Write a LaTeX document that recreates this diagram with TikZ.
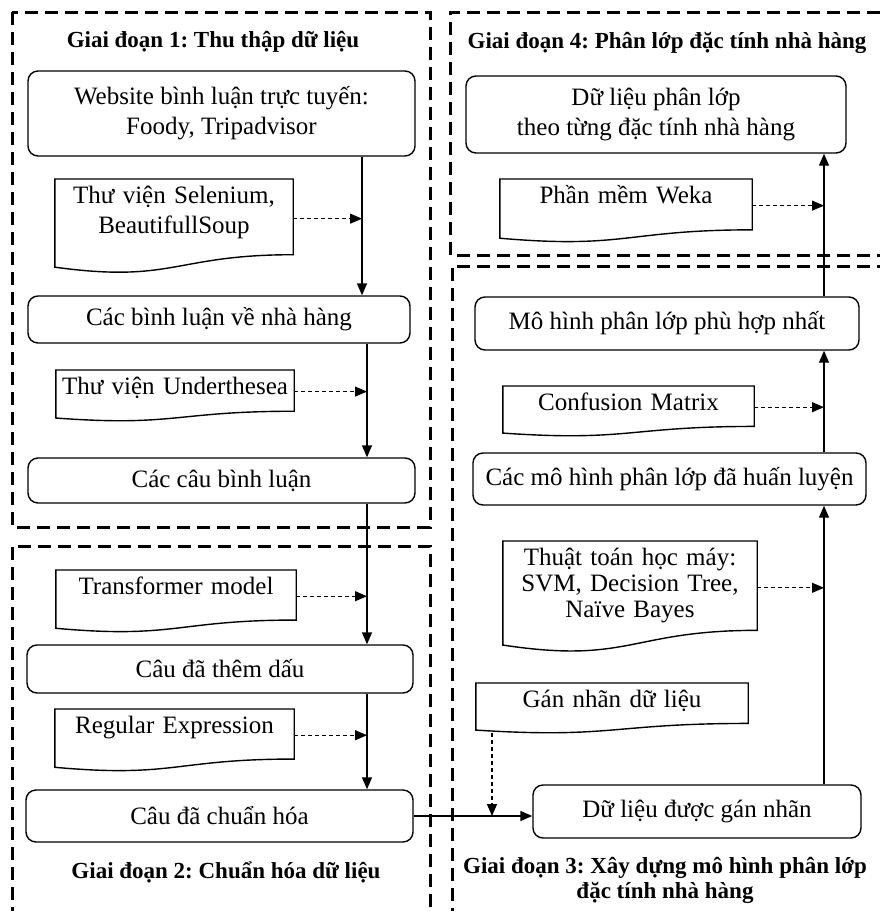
\documentclass[tikz,border=0pt]{standalone}
\usepackage{fontspec}
\setmainfont{Liberation Serif}
\usetikzlibrary{calc,arrows.meta}
\frenchspacing
\tikzset{
  box/.style={draw,rounded corners=10pt,line width=1.4pt,align=center,inner sep=2pt},
  doc/.style={inner sep=0pt,align=center,text height=24pt,anchor=north},
  stagebox/.style={line width=3pt,dash pattern=on 13pt off 7pt},
  flow/.style={->,line width=1.4pt},
  dflow/.style={->,line width=1.1pt,dash pattern=on 4pt off 3pt},
  stagetitle/.style={font=\bfseries\fontsize{23}{25}\selectfont,align=center}
}
% khung tai lieu (canh duoi luon song) + diem noi ben phai
\newcommand{\docframe}[1]{%
  \draw[line width=1.4pt] (#1.north west) -- (#1.north east)
    -- ($(#1.north east)!0.802!(#1.south east)$)
    .. controls ($(#1.north)!0.802!(#1.south)$) and ($(#1.north)!1.107!(#1.south)$)
    .. ($(#1.north west)!0.934!(#1.south west)$) -- cycle;
  \coordinate (#1-out) at ($(#1.north east)!0.42!(#1.south east)$);}
\begin{document}
\begin{tikzpicture}[x=1pt,y=-1pt,font=\fontsize{25}{30}\selectfont,>={Triangle[length=12pt,width=10pt]}]
\useasboundingbox (0,0) rectangle (880,911);
\clip (0,0) rectangle (880,911);
% cac giai doan
\draw[stagebox] (12,12) rectangle (430,527);
\draw[stagebox] (12,920) -- (12,546) -- (430,546) -- (430,920);
\draw[stagebox] (890,255) -- (450,255) -- (450,12) -- (890,12);
\draw[stagebox] (890,266) -- (452,266) -- (452,920);
\node[stagetitle] (t1) at (213,42) {Giai đoạn 1: Thu thập dữ liệu};
\node[stagetitle] (t4) at (667,43) {Giai đoạn 4: Phân lớp đặc tính nhà hàng};
\node[stagetitle] (t2) at (226,872) {Giai đoạn 2: Chuẩn hóa dữ liệu};
\node[stagetitle] (t3) at (665,880) {Giai đoạn 3: Xây dựng mô hình phân lớp\\đặc tính nhà hàng};
% cac buoc
\node[box,minimum width=387pt,minimum height=85pt] (web) at (221.5,113.5) {Website bình luận trực tuyến:\\Foody, Tripadvisor};
\node[box,minimum width=382pt,minimum height=47pt] (binhluan) at (219,319.5) {Các bình luận về nhà hàng};
\node[box,minimum width=387pt,minimum height=45pt] (cau) at (221.5,480.5) {Các câu bình luận};
\node[box,minimum width=386pt,minimum height=48pt] (themdau) at (220,669) {Câu đã thêm dấu};
\node[box,minimum width=387pt,minimum height=52pt] (chuanhoa) at (219.5,816) {Câu đã chuẩn hóa};
\node[box,minimum width=328pt,minimum height=53pt] (gannhan) at (697,811.5) {Dữ liệu được gán nhãn};
\node[box,minimum width=393pt,minimum height=52pt] (huanluyen) at (669.5,479) {Các mô hình phân lớp đã huấn luyện};
\node[box,minimum width=384pt,minimum height=53pt] (phuhop) at (667,323.5) {Mô hình phân lớp phù hợp nhất};
\node[box,minimum width=380pt,minimum height=77pt] (phanlop) at (656,114.5) {Dữ liệu phân lớp\\theo từng đặc tính nhà hàng};
% cong cu
\node[doc,text width=238pt,text depth=70pt] (selenium) at (174,179) {Thư viện Selenium,\\BeautifullSoup};
\node[doc,text width=238pt,text depth=27pt] (underthesea) at (175,370) {Thư viện Underthesea};
\node[doc,text width=240pt,text depth=38pt] (transformer) at (176,570) {Transformer model};
\node[doc,text width=239pt,text depth=38pt] (regex) at (174.5,709) {Regular Expression};
\node[doc,text width=252pt,text depth=39pt] (weka) at (626,179) {Phần mềm Weka};
\node[doc,text width=251pt,text depth=26pt] (confusion) at (628.5,386) {Confusion Matrix};
\node[doc,text width=254pt,text depth=87pt,font=\fontsize{25}{26}\selectfont] (thuattoan) at (630,541) {Thuật toán học máy:\\SVM, Decision Tree,\\Naïve Bayes};
\node[doc,text width=272pt,text depth=26pt] (gannhandl) at (612,683) {Gán nhãn dữ liệu};
\docframe{selenium}\docframe{underthesea}\docframe{transformer}\docframe{regex}
\docframe{weka}\docframe{confusion}\docframe{thuattoan}\docframe{gannhandl}
% duong noi
\coordinate (c1) at (362,0);
\coordinate (c2) at (367,0);
\coordinate (c3) at (492,0);
\coordinate (c4) at (824,0);
\draw[flow] (web.south -| c1) -- (binhluan.north -| c1);
\draw[flow] (binhluan.south -| c2) -- (cau.north -| c2);
\draw[flow] (cau.south -| c2) -- (themdau.north -| c2);
\draw[flow] (themdau.south -| c2) -- (chuanhoa.north -| c2);
\draw[flow] (chuanhoa.east) -- (chuanhoa.east -| gannhan.west);
\draw[flow] (gannhan.north -| c4) -- (huanluyen.south -| c4);
\draw[flow] (huanluyen.north -| c4) -- (phuhop.south -| c4);
\draw[flow] (phuhop.north -| c4) -- (phanlop.south -| c4);
\draw[dflow] (selenium-out) -- (selenium-out -| c1);
\draw[dflow] (underthesea-out) -- (underthesea-out -| c2);
\draw[dflow] (transformer-out) -- (transformer-out -| c2);
\draw[dflow] (regex-out) -- (regex-out -| c2);
\draw[dflow] (weka-out) -- (weka-out -| c4);
\draw[dflow] (confusion-out) -- (confusion-out -| c4);
\draw[dflow] (thuattoan-out) -- (thuattoan-out -| c4);
\draw[dflow] (gannhandl.south -| c3) -- (chuanhoa.east -| c3);
\end{tikzpicture}
\end{document}
